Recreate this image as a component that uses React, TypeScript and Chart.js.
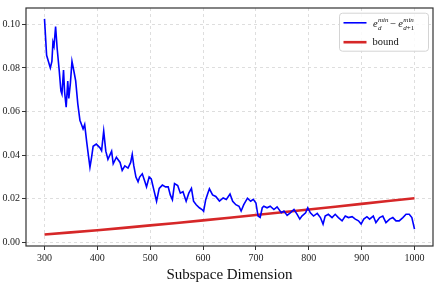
import { useEffect, useRef } from "react";
import { Chart, registerables } from "chart.js";

Chart.register(...registerables);

const dims = [
  300, 304, 311, 314, 316, 318, 321, 324, 328, 331, 333, 336, 338, 341, 344, 346, 349, 352, 356, 359,
  363, 367, 370, 373, 376, 380, 383, 386, 389, 392, 398, 405, 408, 412, 416, 420, 427, 430, 436, 443,
  447, 452, 458, 463, 466, 469, 473, 477, 480, 485, 490, 493, 498, 502, 507, 512, 517, 523, 529, 534,
  538, 542, 546, 552, 557, 562, 568, 573, 578, 582, 587, 593, 598, 601, 605, 609, 612, 618, 624, 631,
  638, 644, 651, 656, 662, 668, 672, 677, 684, 690, 695, 700, 704, 708, 712, 715, 721, 727, 734, 740,
  748, 753, 759, 765, 772, 778, 783, 787, 794, 798, 803, 809, 816, 822, 827, 831, 837, 844, 850, 856,
  863, 869, 875, 882, 888, 894, 899, 904, 910, 915, 922, 927, 934, 940, 946, 953, 959, 965, 971, 978,
  984, 990, 995, 1000,
];

const gaps = [
  0.1025, 0.0858, 0.08, 0.083, 0.0918, 0.09, 0.099, 0.0888, 0.0784, 0.0695, 0.068, 0.079, 0.069, 0.062, 0.074, 0.066, 0.073, 0.083, 0.078, 0.074,
  0.0635, 0.056, 0.054, 0.052, 0.054, 0.0457, 0.04, 0.0344, 0.0388, 0.044, 0.045, 0.0433, 0.042, 0.051, 0.0418, 0.038, 0.0418, 0.036, 0.039, 0.0366,
  0.0329, 0.035, 0.034, 0.0366, 0.0403, 0.035, 0.0299, 0.0277, 0.0299, 0.0314, 0.0277, 0.0254, 0.0299, 0.029, 0.0239, 0.0188, 0.0247, 0.0262, 0.0254, 0.0254,
  0.0217, 0.0195, 0.0269, 0.026, 0.0225, 0.0232, 0.0188, 0.0225, 0.0247, 0.0188, 0.0172, 0.0158, 0.015, 0.0142, 0.0195, 0.0225, 0.0245, 0.0217, 0.021, 0.0189,
  0.0203, 0.0196, 0.0221, 0.0188, 0.0172, 0.0165, 0.0143, 0.0172, 0.0202, 0.0188, 0.0197, 0.018, 0.012, 0.0114, 0.0158, 0.0165, 0.0158, 0.0165, 0.015, 0.0162,
  0.0135, 0.0143, 0.0123, 0.0135, 0.015, 0.0128, 0.0106, 0.012, 0.0135, 0.0158, 0.0135, 0.012, 0.0132, 0.0113, 0.0083, 0.012, 0.0128, 0.0113, 0.0128, 0.0113,
  0.0098, 0.012, 0.0113, 0.0117, 0.0106, 0.0098, 0.0083, 0.0106, 0.0117, 0.0106, 0.012, 0.009, 0.0113, 0.012, 0.009, 0.0106, 0.0113, 0.0098, 0.0098, 0.0113,
  0.0128, 0.0128, 0.0113, 0.006,
];

const boundDims = [300, 400, 500, 600, 700, 800, 900, 1000];
const boundVals = [0.0035, 0.0055, 0.0077, 0.01, 0.0125, 0.015, 0.0176, 0.0202];

const xTicks = [300, 400, 500, 600, 700, 800, 900, 1000];
const yTicks = [0, 0.02, 0.04, 0.06, 0.08, 0.1];
const yTickLabels = ["0.00", "0.02", "0.04", "0.06", "0.08", "0.10"];

const xTitle = "Subspace Dimension";
const boundLabel = "bound";

const SERIF = "'Liberation Serif', 'DejaVu Serif', serif";

const overlay = {
  id: "overlay",
  afterDraw(chart: any) {
    const { ctx, chartArea } = chart;
    const { left, right, top, bottom } = chartArea;
    ctx.save();
    // spines
    ctx.strokeStyle = "#333";
    ctx.lineWidth = 1.2;
    ctx.strokeRect(left, top, right - left, bottom - top);

    // legend box
    const bx = right - 93.5;
    const by = top + 5.2;
    const bw = 89;
    const bh = 38;
    ctx.beginPath();
    (ctx as any).roundRect(bx, by, bw, bh, 3);
    ctx.fillStyle = "rgba(255,255,255,0.85)";
    ctx.fill();
    ctx.strokeStyle = "#d4d4d4";
    ctx.lineWidth = 1;
    ctx.stroke();

    const lx1 = bx + 4;
    const lx2 = bx + 27;
    const y1 = by + 9.6;
    const y2 = by + 29;
    ctx.lineCap = "butt";
    ctx.strokeStyle = "#0000ff";
    ctx.lineWidth = 1.6;
    ctx.beginPath();
    ctx.moveTo(lx1, y1);
    ctx.lineTo(lx2, y1);
    ctx.stroke();
    ctx.strokeStyle = "#d62728";
    ctx.lineWidth = 2.6;
    ctx.beginPath();
    ctx.moveTo(lx1, y2);
    ctx.lineTo(lx2, y2);
    ctx.stroke();

    // text 1: e_d^min - e_{d+1}^min
    ctx.fillStyle = "#111";
    ctx.textBaseline = "alphabetic";
    ctx.textAlign = "left";
    let tx = bx + 33.5;
    const base = by + 14;
    const mainFont = `italic 10.5px ${SERIF}`;
    const smallIt = `italic 7px ${SERIF}`;
    const smallRm = `7px ${SERIF}`;
    const drawE = (subParts: { t: string; it: boolean }[]) => {
      ctx.font = mainFont;
      ctx.fillText("e", tx, base);
      tx += ctx.measureText("e").width + 0.4;
      ctx.font = smallIt;
      ctx.fillText("min", tx, base - 5);
      const supW = ctx.measureText("min").width;
      let sx = tx;
      for (const p of subParts) {
        ctx.font = p.it ? smallIt : smallRm;
        ctx.fillText(p.t, sx, base + 2.4);
        sx += ctx.measureText(p.t).width;
      }
      tx = Math.max(tx + supW, sx);
    };
    drawE([{ t: "d", it: true }]);
    ctx.font = `10.5px ${SERIF}`;
    tx += 1.8;
    ctx.fillText("\u2212", tx, base);
    tx += ctx.measureText("\u2212").width + 2;
    drawE([
      { t: "d", it: true },
      { t: "+1", it: false },
    ]);

    ctx.font = `10.5px ${SERIF}`;
    ctx.fillText(boundLabel, bx + 33, by + 32.2);
    ctx.restore();
  },
};

export default function App() {
  const ref = useRef<HTMLCanvasElement | null>(null);
  useEffect(() => {
    document.body.style.margin = "0";
    const canvas = ref.current!;
    const chart = new Chart(canvas, {
      type: "line",
      data: {
        datasets: [
          {
            label: "gap",
            data: dims.map((d, i) => ({ x: d, y: gaps[i] })),
            borderColor: "#0000ff",
            borderWidth: 1.6,
            pointRadius: 0,
            tension: 0,
            fill: false,
          },
          {
            label: boundLabel,
            data: boundDims.map((d, i) => ({ x: d, y: boundVals[i] })),
            borderColor: "#d62728",
            borderWidth: 2.6,
            pointRadius: 0,
            tension: 0.3,
            fill: false,
          },
        ],
      },
      options: {
        animation: false,
        responsive: false,
        events: [],
        layout: { padding: { top: 1.5, right: 3, left: 0, bottom: 0 } },
        plugins: { legend: { display: false }, tooltip: { enabled: false } },
        scales: {
          x: {
            type: "linear",
            min: 265,
            max: 1035,
            afterBuildTicks: (s: any) => {
              s.ticks = xTicks.map((v) => ({ value: v }));
            },
            afterFit: (s: any) => {
              s.height = 38;
            },
            ticks: {
              font: { family: SERIF, size: 10 },
              color: "#222",
              padding: 2,
              maxRotation: 0,
              autoSkip: false,
              callback: (v: any) => String(v),
            },
            grid: {
              color: "#d6d6d6",
              lineWidth: 0.8,
              tickColor: "#333",
              tickLength: 4,
              tickWidth: 1,
            },
            border: { display: false, dash: [3, 3] },
            title: {
              display: true,
              text: xTitle,
              font: { family: SERIF, size: 15 },
              color: "#111",
              padding: { top: 0, bottom: 0 },
            },
          },
          y: {
            type: "linear",
            min: -0.00175,
            max: 0.1075,
            afterBuildTicks: (s: any) => {
              s.ticks = yTicks.map((v) => ({ value: v }));
            },
            afterFit: (s: any) => {
              s.width = 26;
            },
            ticks: {
              font: { family: SERIF, size: 10 },
              color: "#222",
              padding: 2,
              autoSkip: false,
              callback: (v: any) => {
                const i = yTicks.findIndex((t) => Math.abs(t - v) < 1e-9);
                return i >= 0 ? yTickLabels[i] : "";
              },
            },
            grid: {
              color: "#d6d6d6",
              lineWidth: 0.8,
              tickColor: "#333",
              tickLength: 4,
              tickWidth: 1,
            },
            border: { display: false, dash: [3, 3] },
          },
        },
      },
      plugins: [overlay],
    } as any);
    return () => chart.destroy();
  }, []);
  return (
    <div style={{ position: "fixed", left: 0, top: 0, width: 436, height: 284 }}>
      <canvas ref={ref} width={436} height={284} style={{ width: 436, height: 284, display: "block" }} />
    </div>
  );
}
